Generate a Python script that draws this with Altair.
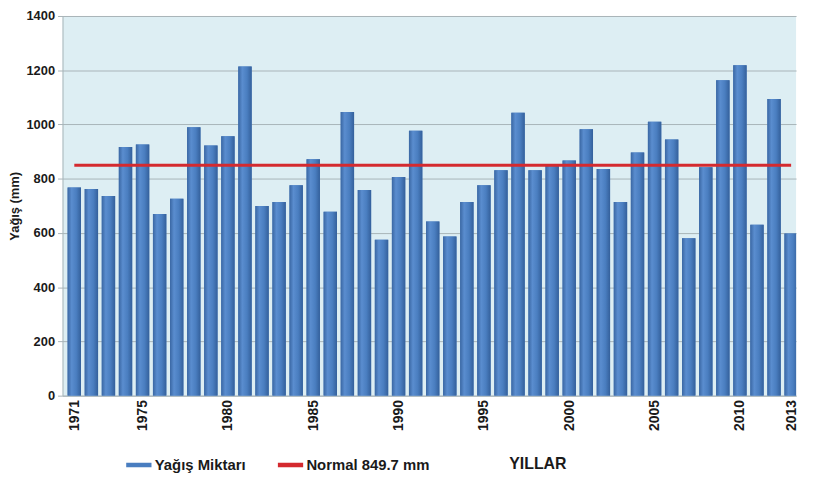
import altair as alt
import pandas as pd

years = list(range(1971, 2014))
rain = [768, 762, 736, 917, 926, 670, 726, 990, 922, 957, 1214, 699,
        714, 776, 872, 678, 1046, 758, 575, 806, 977, 642, 587, 714, 776, 831, 1043, 831,
        849, 867, 982, 836, 714, 897, 1010, 945, 580, 842, 1163, 1218, 630, 1094, 598]
normal_value = 849.7
series_labels = ["Yağış Miktarı", "Normal 849.7 mm"]
series_colors = ["#4a7ec0", "#d42a2f"]
label_years = [1971, 1975, 1980, 1985, 1990, 1995, 2000, 2005, 2010, 2013]
y_ticks = [0, 200, 400, 600, 800, 1000, 1200, 1400]

bars_df = pd.DataFrame({"Yıl": years, "Yağış": rain, "Seri": series_labels[0]})
normal_df = pd.DataFrame({"start": [years[0]], "end": [years[-1]],
                          "Yağış": [normal_value], "Seri": [series_labels[1]]})

FONT = "Liberation Sans"
xscale = alt.Scale(domain=[1970.6, 2013], nice=False, zero=False)
yscale = alt.Scale(domain=[0, 1400], nice=False)

color = alt.Color(
    "Seri:N",
    scale=alt.Scale(domain=series_labels, range=series_colors),
    legend=alt.Legend(
        title=None, orient="none", direction="horizontal",
        legendX=64, legendY=440,
        symbolType="M-1,-0.12H1V0.12H-1Z", symbolSize=576,
        labelFont=FONT, labelFontWeight="bold", labelFontSize=15, labelColor="#1a1a1a",
        columnPadding=30, labelOffset=3,
    ),
)

x_enc = alt.X("Yıl:Q", scale=xscale, axis=alt.Axis(
    values=label_years, format="d", labelAngle=270, grid=False, ticks=False,
    domain=True, domainColor="#a8b4b8", labelPadding=4,
    labelFont=FONT, labelFontWeight="bold", labelFontSize=14, labelColor="#1a1a1a",
    title="YILLAR", titleFont=FONT, titleFontWeight="bold", titleFontSize=16,
    titleColor="#1a1a1a", titleX=479, titleY=68, titleBaseline="middle", titleAlign="center",
))
y_enc = alt.Y("Yağış:Q", scale=yscale, axis=alt.Axis(
    values=y_ticks, format="d", grid=True, gridColor="#a8b4b8", domainColor="#a8b4b8",
    tickColor="#a8b4b8", tickSize=5, labelPadding=3,
    labelFont=FONT, labelFontWeight="bold", labelFontSize=13, labelColor="#1a1a1a",
    title="Yağış (mm)", titleFont=FONT, titleFontWeight="bold", titleFontSize=13,
    titleColor="#1a1a1a", titlePadding=4,
))

bars = alt.Chart(bars_df).mark_bar(size=13.5, clip=True).encode(x=x_enc, y=y_enc, color=color)

shade = alt.Chart(bars_df).mark_bar(
    size=13.5, clip=True,
    color=alt.Gradient(gradient="linear", x1=0, x2=1, y1=0, y2=0, stops=[
        alt.GradientStop(offset=0, color="#3a67a3"),
        alt.GradientStop(offset=0.3, color="#5a8dcf"),
        alt.GradientStop(offset=0.65, color="#4a7ec0"),
        alt.GradientStop(offset=1, color="#34609b"),
    ]),
).encode(x="Yıl:Q", y="Yağış:Q")

normal = alt.Chart(normal_df).mark_rule(strokeWidth=3).encode(
    x="start:Q", x2="end:Q", y="Yağış:Q", color=color)

chart = alt.layer(bars, shade, normal).properties(
    width=740, height=383,
    autosize=alt.AutoSizeParams(type="none"),
    padding={"left": 55, "top": 6, "right": 9, "bottom": 80},
).configure_view(fill="#ddeef3", strokeWidth=0)

chart.save("out.html", embed_options={"renderer": "svg", "actions": False})
